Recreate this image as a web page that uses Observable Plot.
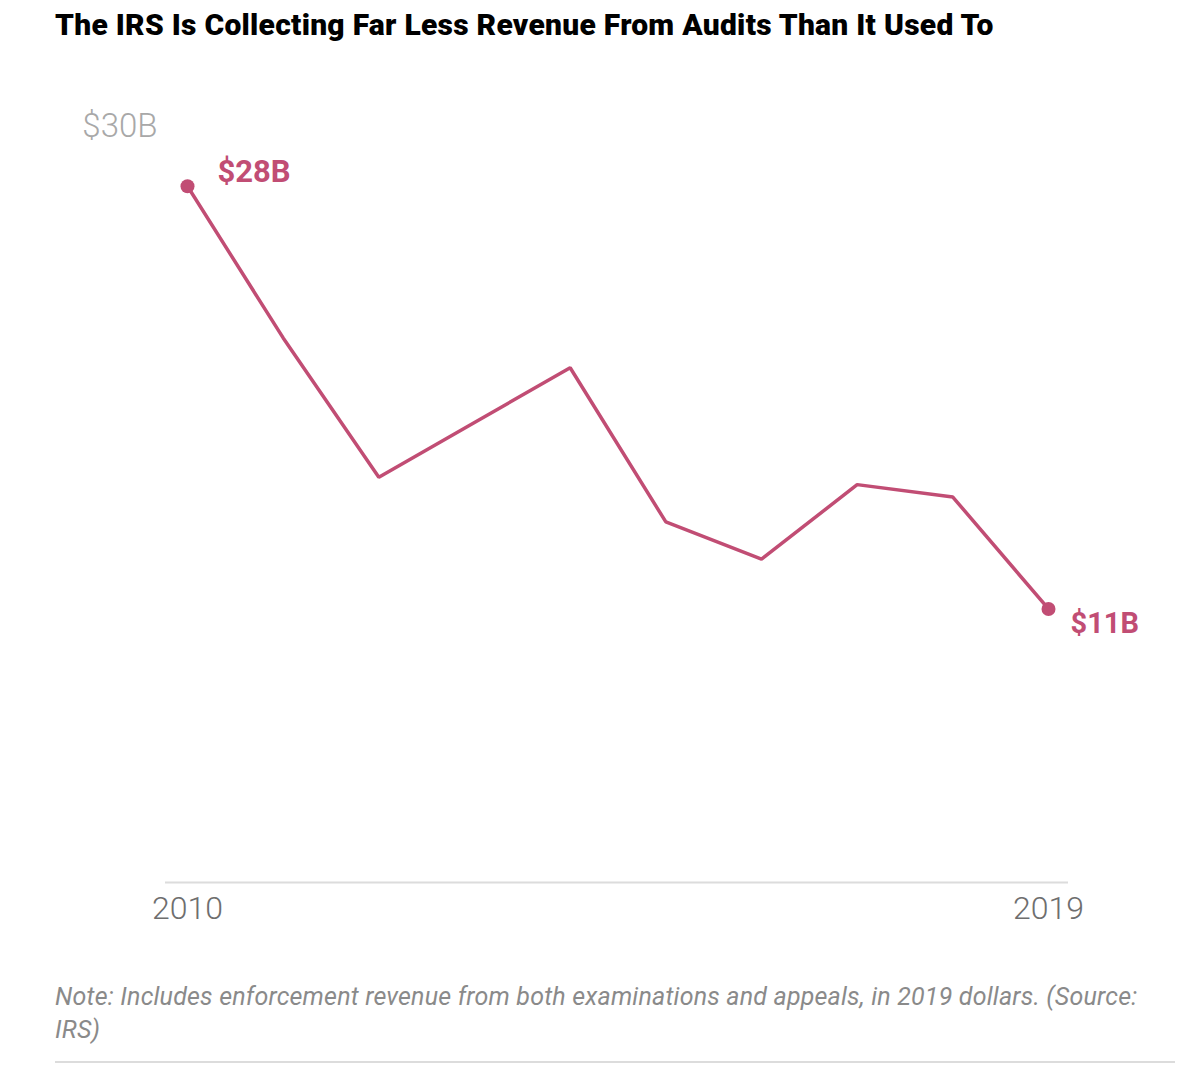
<!DOCTYPE html>
<html>
<head>
<meta charset="utf-8">
<script src="https://cdn.jsdelivr.net/npm/d3@7"></script>
<script src="https://cdn.jsdelivr.net/npm/@observablehq/plot@0.6"></script>
<style>
  body { margin: 0; background: #fff; width: 1200px; height: 1072px; position: relative; font-family: Roboto, "Noto Sans", sans-serif; }
  #title { position: absolute; left: 55px; top: 0; height: 50px; line-height: 50px; font-size: 30px; font-weight: 900; color: #000; letter-spacing: 0.27px; white-space: nowrap; }
  #chart { position: absolute; left: 0; top: 50px; }
  #note { position: absolute; left: 55px; top: 980px; width: 1120px; font-size: 25px; line-height: 33px; font-style: italic; color: #8a8a8a; letter-spacing: 0.2px; white-space: nowrap; }
  #rule { position: absolute; left: 55px; top: 1061px; width: 1120px; height: 0; border-top: 2px solid #dcdcdc; }
</style>
</head>
<body>
<div id="title">The IRS Is Collecting Far Less Revenue From Audits Than It Used To</div>
<div id="chart"></div>
<div id="note">Note: Includes enforcement revenue from both examinations and appeals, in 2019 dollars. (Source:<br>IRS)</div>
<div id="rule"></div>
<script>
const years = [2010, 2011, 2012, 2013, 2014, 2015, 2016, 2017, 2018, 2019];
const revenue = [28, 21.9, 16.3, 18.5, 20.7, 14.5, 13.0, 16.0, 15.5, 11];
const xTickLabels = [2010, 2019];
const yTickLabels = [30];
const endLabels = ["$28B", "$11B"];

const data = years.map((year, i) => ({year, value: revenue[i]}));
const first = data[0];
const last = data[data.length - 1];
const color = "#c14d74";

const chart = Plot.plot({
  width: 1200,
  height: 900,
  marginTop: 86,
  marginBottom: 68,
  marginLeft: 187,
  marginRight: 152,
  style: { fontFamily: "Roboto, 'Noto Sans', sans-serif", background: "#fff" },
  x: { domain: [2010, 2019] },
  y: { domain: [0, 30] },
  marks: [
    Plot.ruleY([0], { stroke: "#dcdcdc", strokeWidth: 2, insetLeft: -22, insetRight: -20 }),
    Plot.axisX({ ticks: xTickLabels, tickSize: 0, tickPadding: 14, tickFormat: d => String(d), fontSize: 32, fontWeight: 300, color: "#6e6e6e", label: null }),
    Plot.axisY({ ticks: yTickLabels, tickSize: 0, tickPadding: 30, lineAnchor: "bottom", tickFormat: d => `$${d}B`, fontSize: 33, fontWeight: 300, color: "#a8a8a8", label: null }),
    Plot.line(data, { x: "year", y: "value", stroke: color, strokeWidth: 3.5, strokeLinejoin: "miter" }),
    Plot.dot([first, last], { x: "year", y: "value", r: 7, fill: color }),
    Plot.text([first], { x: "year", y: "value", text: () => endLabels[0], dx: 30, dy: -14, textAnchor: "start", fill: color, fontSize: 31, fontWeight: "bold" }),
    Plot.text([last], { x: "year", y: "value", text: () => endLabels[1], dx: 22, dy: 15, textAnchor: "start", fill: color, fontSize: 29, fontWeight: "bold" })
  ]
});
document.getElementById("chart").appendChild(chart);
</script>
</body>
</html>
